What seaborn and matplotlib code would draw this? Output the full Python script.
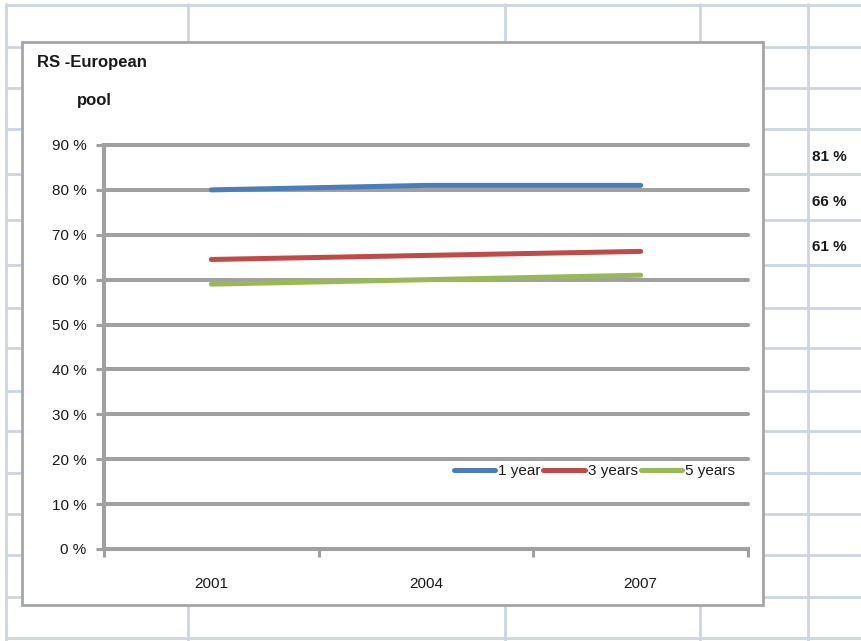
import matplotlib
matplotlib.use("Agg")
import matplotlib.pyplot as plt
from matplotlib import font_manager as fm
from matplotlib.patches import Rectangle
import numpy as np
import pandas as pd
import seaborn as sns

# ---- data -------------------------------------------------------------
years = ["2001", "2004", "2007"]
series_names = ["1 year", "3 years", "5 years"]
one_year = [80.0, 81.0, 81.0]
three_years = [64.5, 65.4, 66.3]
five_years = [59.0, 60.0, 61.0]
y_ticks = [0, 10, 20, 30, 40, 50, 60, 70, 80, 90]
title_lines = ["RS -European", "pool"]
colors = ["#4A7EBB", "#BE4B48", "#98B954"]

df = pd.DataFrame({
    "year": years * 3,
    "rate": one_year + three_years + five_years,
    "horizon": [n for n in series_names for _ in years],
})

# ---- fonts ------------------------------------------------------------
sns.set_theme(style="white")
def pick_font(cands):
    for c in cands:
        try:
            fm.findfont(fm.FontProperties(family=c), fallback_to_default=False)
            return c
        except Exception:
            pass
    return "DejaVu Sans"
narrow = pick_font(["Liberation Sans Narrow", "Liberation Sans", "DejaVu Sans"])
plt.rcParams["font.family"] = [narrow, "DejaVu Sans"]
is_narrow = "Narrow" in narrow
fs = 13 if is_narrow else 11
fs_bold = 14 if is_narrow else 12

W, H = 861, 641
fig = plt.figure(figsize=(W / 100, H / 100), dpi=100)

# ---- worksheet background --------------------------------------------
bg = fig.add_axes([0, 0, 1, 1], zorder=0)
bg.set_xlim(0, W)
bg.set_ylim(H, 0)
bg.axis("off")
sheet_rows = [5, 47, 88, 129, 174, 220, 265, 308, 348, 391, 431, 473, 514, 555, 597, 638]
sheet_cols = [6, 188, 505, 700, 808]
cell_color = "#CDD5E3"
for r in sheet_rows:
    bg.plot([6, W], [r, r], color=cell_color, lw=2.0, solid_capstyle="butt")
for c in sheet_cols:
    bg.plot([c, c], [3, H], color=cell_color, lw=2.0, solid_capstyle="butt")

# chart frame
bg.add_patch(Rectangle((22, 42), 763 - 22, 605 - 42, facecolor="white",
                       edgecolor="#A5A5A5", lw=2.0, zorder=3))

# title inside frame
bg.text(37, 63, title_lines[0], fontsize=fs_bold, fontweight="bold",
        color="#1a1a1a", va="center", ha="left", zorder=4)
bg.text(77, 100, title_lines[1], fontsize=fs_bold, fontweight="bold",
        color="#1a1a1a", va="center", ha="left", zorder=4)

# ---- plot area --------------------------------------------------------
def px_axes(x0, y0, x1, y1):
    return [x0 / W, 1 - y1 / H, (x1 - x0) / W, (y1 - y0) / H]

ax = fig.add_axes(px_axes(104, 145, 748, 549), zorder=2)
ax.set_facecolor("none")

grid_color = "#A0A0A0"
sns.lineplot(data=df, x="year", y="rate", hue="horizon", hue_order=series_names,
             palette=colors, linewidth=3.6, solid_capstyle="round", ax=ax,
             legend=False, sort=False)

ax.set_xlim(-0.5, len(years) - 0.5)
ax.set_ylim(0, 90)
ax.set_yticks(y_ticks)
ax.set_yticklabels([f"{v} %" for v in y_ticks])
ax.set_xticks(range(len(years)))
ax.set_xticklabels(years)
ax.set_xticks(np.arange(-0.5, len(years), 1.0), minor=True)
ax.set_xlabel("")
ax.set_ylabel("")

ax.grid(axis="y", color=grid_color, lw=2.9, zorder=0)
ax.grid(axis="x", visible=False)
ax.set_axisbelow(True)
for gl in ax.get_ygridlines():
    gl.set_clip_on(False)

for s in ["top", "right"]:
    ax.spines[s].set_visible(False)
ax.spines["left"].set_color(grid_color)
ax.spines["left"].set_linewidth(2.9)
ax.spines["bottom"].set_color(grid_color)
ax.spines["bottom"].set_linewidth(2.9)

ax.tick_params(axis="y", which="major", length=5.5, width=2.2, color=grid_color,
               pad=7, labelsize=fs, labelcolor="#1a1a1a", direction="out", left=True)
ax.tick_params(axis="x", which="major", length=0, pad=20, labelsize=fs,
               labelcolor="#1a1a1a")
ax.tick_params(axis="x", which="minor", length=6, width=2.2, color=grid_color,
               direction="out", bottom=True)

# legend
handles = [plt.Line2D([], [], color=c, lw=3.6, solid_capstyle="round") for c in colors]
ax.legend(handles, series_names, ncol=3, frameon=False, loc="center right",
          bbox_to_anchor=(0.98, 0.193), fontsize=fs, handlelength=2.7,
          handletextpad=0.2, columnspacing=0.2, borderpad=0, borderaxespad=0,
          labelcolor="#1a1a1a")

# end-of-period values to the right of the frame
label_y = [157, 202, 247]
for series, yy in zip([one_year, three_years, five_years], label_y):
    bg.text(812, yy, f"{round(series[-1])} %", fontsize=fs_bold - 1, fontweight="bold",
            color="#1a1a1a", va="center", ha="left", zorder=4)

fig.savefig("out.png", dpi=100)
